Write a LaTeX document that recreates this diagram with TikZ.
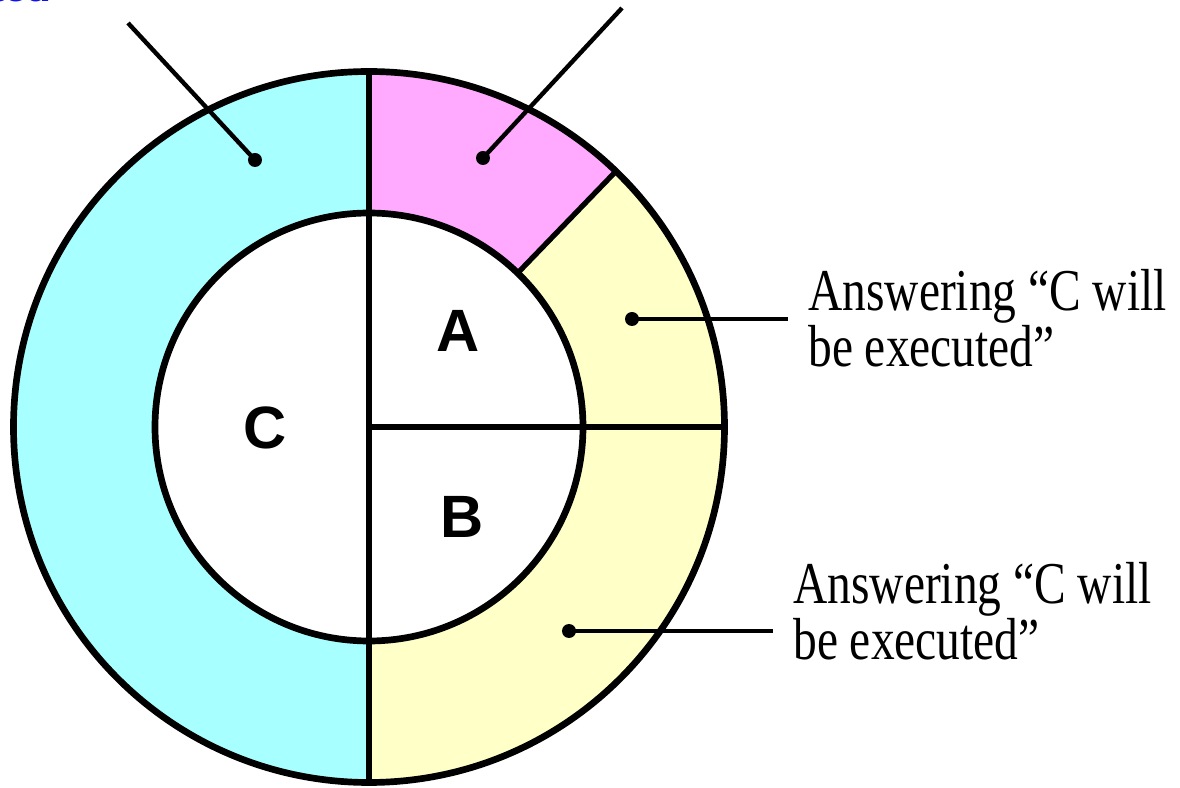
\documentclass[tikz,border=0pt]{standalone}
\usepackage{fontspec}
\setmainfont{Liberation Serif}
\newfontfamily\letterfont{Liberation Sans}
\usepackage{tikz}
\usetikzlibrary{positioning}
\definecolor{ringcyan}{HTML}{A8FFFF}
\definecolor{ringpink}{HTML}{FFAAFF}
\definecolor{ringyellow}{HTML}{FFFFC8}
\definecolor{linkblue}{HTML}{1010F0}

\begin{document}
\begin{tikzpicture}[
  ring/.style={line width=3.8pt, draw=black},
  divider/.style={line width=3pt, draw=black},
  leader/.style={line width=2.5pt, draw=black},
  dot/.style={circle, fill=black, inner sep=0pt, minimum size=0.28cm},
  letter/.style={font=\letterfont\bfseries\fontsize{34}{36}\selectfont, inner sep=0pt},
  note/.style={font=\fontsize{27}{21.8}\selectfont, align=left, inner sep=0pt,
               anchor=base west, yscale=1.25, transform shape}
]
\def\R{7.11}
\def\r{4.28}
\useasboundingbox (-7.38,-7.22) rectangle (16.22,8.54);
\clip (-7.38,-7.22) rectangle (16.22,8.54);

% ring sectors
\fill[ringcyan] (90:\R) arc (90:270:\R) -- (270:\r) arc (270:90:\r) -- cycle;
\fill[ringpink] (90:\R) arc (90:46:\R) -- (46:\r) arc (46:90:\r) -- cycle;
\fill[ringyellow] (46:\R) arc (46:-90:\R) -- (-90:\r) arc (-90:46:\r) -- cycle;

\draw[ring] (0,0) circle (\R);
\draw[ring] (0,0) circle (\r);
\draw[divider] (90:\R) -- (270:\R);
\draw[divider] (0,0) -- (0:\R);
\draw[divider] (46:\r) -- (46:\R);

\node[letter] (sa) at (1.78,1.92) {A};
\node[letter] (sb) at (1.86,-1.80) {B};
\node[letter] (sc) at (-2.08,-0.02) {C};

% leaders
\node[dot] (dcyan) at (-2.28,5.34) {};
\node[dot] (dpink) at (2.28,5.38) {};
\node[dot] (dyup) at (5.26,2.16) {};
\node[dot] (dylow) at (4.00,-4.08) {};
\coordinate (ecyan) at (-4.82,8.08);
\coordinate (epink) at (5.06,8.38);
\coordinate (eyup) at (8.38,2.16);
\coordinate (eylow) at (8.08,-4.08);
\draw[leader] (dcyan.center) -- (ecyan);
\draw[leader] (dpink.center) -- (epink);
\draw[leader] (dyup.center) -- (eyup);
\draw[leader] (dylow.center) -- (eylow);

\node[note] (nup) at (8.78,1.20) {Answering ``C will\\be executed''};
\node[note] (nlow) at (8.48,-4.66) {Answering ``C will\\be executed''};

\node[font=\fontsize{27}{27}\selectfont, text=linkblue, anchor=base east, inner sep=0pt]
  (topnote) at (-6.38,8.51) {executed};

\end{tikzpicture}
\end{document}
